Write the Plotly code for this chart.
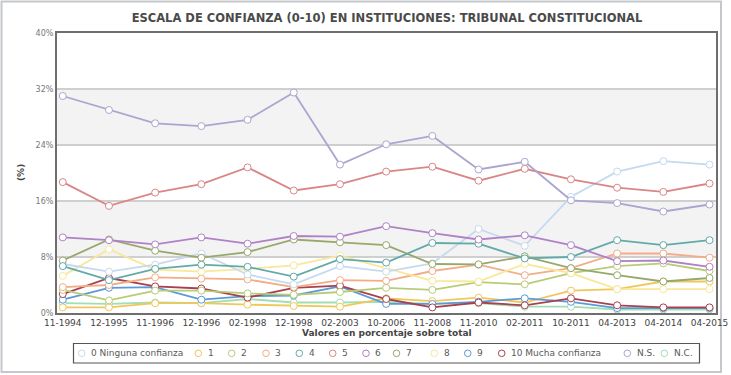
import plotly.graph_objects as go

# ---------------- data ----------------
fechas = ["11-1994", "12-1995", "11-1996", "12-1996", "02-1998", "12-1998", "02-2003",
          "10-2006", "11-2008", "11-2010", "02-2011", "10-2011", "04-2013", "04-2014", "04-2015"]

s0 = [7.0, 5.9, 6.9, 8.5, 5.5, 4.1, 6.7, 5.9, 7.1, 12.0, 9.6, 16.6, 20.2, 21.7, 21.2]
s1 = [0.8, 0.8, 1.4, 1.4, 1.2, 1.0, 0.9, 2.1, 1.7, 2.2, 1.5, 3.2, 3.4, 4.5, 4.5]
s2 = [3.3, 1.8, 3.2, 3.2, 2.8, 2.6, 3.0, 3.6, 3.3, 4.4, 4.1, 5.7, 6.7, 7.1, 6.0]
s3 = [3.7, 4.0, 5.1, 4.9, 4.8, 3.7, 4.7, 4.6, 6.0, 6.9, 5.4, 6.4, 8.5, 8.5, 7.9]
s4 = [6.7, 4.7, 6.3, 6.9, 6.6, 5.2, 7.7, 7.2, 10.0, 9.9, 7.8, 8.0, 10.4, 9.7, 10.4]
s5 = [18.7, 15.3, 17.2, 18.4, 20.8, 17.5, 18.4, 20.2, 20.9, 18.9, 20.6, 19.1, 17.9, 17.3, 18.5]
s6 = [10.8, 10.4, 9.8, 10.8, 9.9, 11.0, 10.9, 12.4, 11.4, 10.5, 11.1, 9.7, 7.4, 7.5, 6.6]
s7 = [7.5, 10.5, 8.9, 7.9, 8.7, 10.5, 10.1, 9.7, 7.0, 6.95, 8.1, 6.4, 5.4, 4.5, 5.0]
s8 = [5.3, 9.1, 6.2, 5.9, 6.3, 6.8, 8.2, 6.4, 4.6, 4.5, 7.0, 5.7, 3.4, 3.4, 3.4]
s9 = [1.9, 3.6, 3.7, 1.9, 2.4, 2.5, 3.8, 1.3, 1.3, 1.6, 2.1, 1.6, 0.7, 0.7, 0.7]
s10 = [2.7, 5.0, 3.8, 3.5, 2.2, 3.6, 3.9, 2.0, 0.8, 1.5, 1.1, 2.1, 1.1, 0.8, 0.8]
ns = [31.0, 29.0, 27.1, 26.7, 27.6, 31.5, 21.2, 24.1, 25.3, 20.5, 21.6, 16.1, 15.7, 14.5, 15.5]
nc = [1.4, 1.3, 1.5, 1.4, 2.0, 1.5, 1.5, 1.6, 1.3, 1.4, 0.9, 0.9, 0.5, 0.5, 0.5]

nombres = ["0 Ninguna confianza", "1", "2", "3", "4", "5", "6", "7", "8", "9",
           "10 Mucha confianza", "N.S.", "N.C."]
series = [s0, s1, s2, s3, s4, s5, s6, s7, s8, s9, s10, ns, nc]
colores = ["#c5d9f0", "#f0c75a", "#b8cc76", "#f2ad87", "#62aaa8", "#da8686", "#b181c6",
           "#97a86b", "#f8e898", "#5b9ad6", "#a8404f", "#aca5cf", "#a2ddb3"]

y_ticks = [0, 8, 16, 24, 32, 40]

# ---------------- layout constants (pixels) ----------------
W, H = 731, 375
L, R, T, B = 57, 15, 33, 62
PW, PH = W - L - R, H - T - B


def px(xp):
    return (xp - L) / PW


def py(yp):
    return (H - B - yp) / PH


fig = go.Figure()

# draw order: small series first, main ones last
orden = [12, 1, 9, 10, 2, 3, 8, 0, 7, 4, 6, 5, 11]
for i in orden:
    fig.add_trace(go.Scatter(
        x=fechas, y=series[i], name=nombres[i], mode="lines+markers",
        line=dict(color=colores[i], width=1.8),
        marker=dict(symbol="circle", size=7, color="white",
                    line=dict(color=colores[i], width=1)),
        showlegend=False,
    ))

shapes = []
# alternating background bands
for y0, y1 in [(8, 16), (24, 32)]:
    shapes.append(dict(type="rect", xref="paper", yref="y", x0=0, x1=1, y0=y0, y1=y1,
                       fillcolor="#f3f3f3", line=dict(width=0), layer="below"))

# outer frame
shapes.append(dict(type="rect", xref="paper", yref="paper",
                   x0=px(1.5), x1=px(721), y0=py(372), y1=py(1.5),
                   line=dict(color="#c4c8cc", width=2), fillcolor="rgba(0,0,0,0)", layer="below"))

# legend box
shapes.append(dict(type="rect", xref="paper", yref="paper",
                   x0=px(73.5), x1=px(699.5), y0=py(363), y1=py(343.5),
                   line=dict(color="#555555", width=1.2), fillcolor="white"))

# legend entries (marker centre px)
leg_marker_px = [81.7, 198.3, 231.7, 266.0, 299.3, 332.7, 366.0, 396.5, 434.3, 467.7, 501.7, 627.3, 664.3]
leg_y = 353.3
annotations = []
for i, nm in enumerate(nombres):
    mx = leg_marker_px[i]
    shapes.append(dict(type="circle", xref="paper", yref="paper",
                       xsizemode="pixel", ysizemode="pixel",
                       xanchor=px(mx), yanchor=py(leg_y),
                       x0=-3.3, x1=3.3, y0=-3.3, y1=3.3,
                       line=dict(color=colores[i], width=1), fillcolor="white"))
    annotations.append(dict(text=nm, xref="paper", yref="paper",
                            x=px(mx + 7.3), y=py(leg_y), xanchor="left", yanchor="middle",
                            showarrow=False,
                            font=dict(family="DejaVu Sans", size=9, color="#5a5a5a")))

# axis titles
annotations.append(dict(text="<b>Valores en porcentaje sobre total</b>", xref="paper", yref="paper",
                        x=0.5, y=py(333), xanchor="center", yanchor="middle", showarrow=False,
                        font=dict(family="DejaVu Sans", size=9, color="#444444")))
annotations.append(dict(text="<b>(%)</b>", xref="paper", yref="paper",
                        x=px(21), y=0.5, xanchor="center", yanchor="middle", showarrow=False,
                        textangle=-90,
                        font=dict(family="DejaVu Sans", size=9, color="#444444")))

fig.update_layout(
    width=W, height=H,
    margin=dict(l=L, r=R, t=T, b=B, autoexpand=False),
    paper_bgcolor="white", plot_bgcolor="white",
    title=dict(text="<b>ESCALA DE CONFIANZA (0-10) EN INSTITUCIONES: TRIBUNAL CONSTITUCIONAL</b>",
               xref="container", x=387 / W, xanchor="center", y=1 - 18 / H, yanchor="middle",
               font=dict(family="DejaVu Sans", size=11.5, color="#4a4a4a")),
    showlegend=False,
    shapes=shapes,
    annotations=annotations,
    font=dict(family="DejaVu Sans"),
)

fig.update_xaxes(type="category", range=[-0.125, 14.14],
                 showgrid=False, showline=True, mirror=True, linecolor="#6e6e6e", linewidth=2,
                 ticks="", tickfont=dict(family="DejaVu Sans", size=9, color="#444444"),
                 zeroline=False, fixedrange=True)
fig.update_yaxes(range=[0, 40], tickvals=y_ticks, ticktext=[f"{v}%" for v in y_ticks],
                 showgrid=True, gridcolor="#cfcfcf", gridwidth=1.5,
                 showline=True, mirror=True, linecolor="#6e6e6e", linewidth=2,
                 ticks="", tickfont=dict(family="DejaVu Sans", size=8, color="#777777"),
                 zeroline=False, fixedrange=True)

fig.write_html("out.html", config={"displayModeBar": False},
               post_script="document.body.style.margin='0';document.body.style.padding='0';")
